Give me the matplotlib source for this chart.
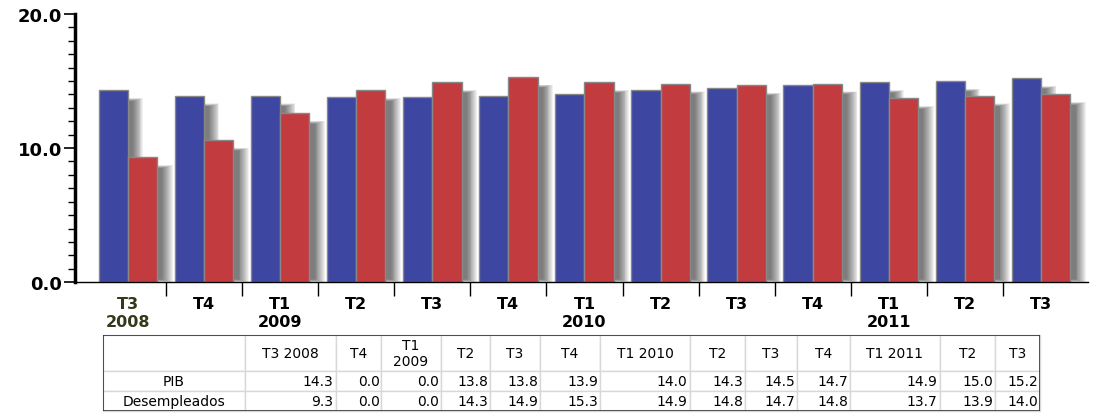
import matplotlib.pyplot as plt
import numpy as np

trimestres = ["T3", "T4", "T1", "T2", "T3", "T4", "T1", "T2", "T3", "T4", "T1", "T2", "T3"]
anios = ["2008", "", "2009", "", "", "", "2010", "", "", "", "2011", "", ""]
pib = [14.3, 13.9, 13.9, 13.8, 13.8, 13.9, 14.0, 14.3, 14.5, 14.7, 14.9, 15.0, 15.2]
desempleados = [9.3, 10.6, 12.6, 14.3, 14.9, 15.3, 14.9, 14.8, 14.7, 14.8, 13.7, 13.9, 14.0]

cabecera = ["", "T3 2008", "T4", "T1\n2009", "T2", "T3", "T4", "T1 2010", "T2", "T3", "T4", "T1 2011", "T2", "T3"]
tabla_pib = ["14.3", "0.0", "0.0", "13.8", "13.8", "13.9", "14.0", "14.3", "14.5", "14.7", "14.9", "15.0", "15.2"]
tabla_des = ["9.3", "0.0", "0.0", "14.3", "14.9", "15.3", "14.9", "14.8", "14.7", "14.8", "13.7", "13.9", "14.0"]

fig = plt.figure(figsize=(10.97, 4.14), dpi=100)
ax = fig.add_axes([0.068, 0.316, 0.924, 0.648])

x = np.arange(len(pib))
w = 0.385
azul = "#3d46a0"
rojo = "#c23b3e"

# sombra difusa: rectangulos crecientes con poca opacidad
for k in range(12):
    g = k * 0.012
    gy = g * 1.7
    for xs, vals in ((x - w / 2, pib), (x + w / 2, desempleados)):
        v = np.array(vals)
        ax.bar(xs + 0.13, v - 1.0 + 2 * gy, w - 0.12 + 2 * g, bottom=0.2 - gy,
               color="black", alpha=0.055, linewidth=0, zorder=1, clip_on=False)

ax.bar(x - w / 2, pib, w, color=azul, edgecolor="#888888", linewidth=1, zorder=3)
ax.bar(x + w / 2, desempleados, w, color=rojo, edgecolor="#888888", linewidth=1, zorder=3)

ax.set_xlim(-0.7, 12.62)
ax.set_ylim(0, 20)
ax.set_yticks([0, 10, 20])
ax.set_yticklabels(["0.0", "10.0", "20.0"], fontsize=13, fontweight="bold")
ax.set_yticks(np.arange(0, 21, 1), minor=True)
ax.tick_params(axis="y", which="major", length=8, width=1.2, pad=1)
ax.tick_params(axis="y", which="minor", length=5, width=1)
for s in ("top", "right"):
    ax.spines[s].set_visible(False)
ax.spines["left"].set_linewidth(2.5)
ax.spines["left"].set_zorder(4)
ax.spines["bottom"].set_linewidth(1)
ax.spines["bottom"].set_zorder(4)

ax.set_xticks(x[:-1] + 0.5)
ax.set_xticklabels([])
ax.tick_params(axis="x", length=10, direction="out", width=1)
for i, (t, a) in enumerate(zip(trimestres, anios)):
    col = "#333a1a" if i == 0 else "black"
    ax.text(i, -1.0, t, ha="center", va="top", fontsize=11.5, fontweight="bold", color=col)
    if a:
        ax.text(i, -2.35, a, ha="center", va="top", fontsize=11.5, fontweight="bold", color=col)

# tabla
anchos = [142, 91, 45, 60, 49, 50, 60, 90, 55, 52, 53, 90, 55, 45]
tx = fig.add_axes([103 / 1097, 2 / 414, sum(anchos) / 1097, 76 / 414])
tx.axis("off")
anchos_rel = [a / sum(anchos) for a in anchos]
filas = [cabecera, ["PIB"] + tabla_pib, ["Desempleados"] + tabla_des]
tb = tx.table(cellText=filas, colWidths=anchos_rel, bbox=[0, 0, 1, 1])
tb.auto_set_font_size(False)
alturas = [0.47, 0.265, 0.265]
for (r, c), cell in tb.get_celld().items():
    cell.set_height(alturas[r])
    cell.set_edgecolor("#d8d8d8")
    cell.set_linewidth(1)
    cell.get_text().set_fontsize(10)
    if r > 0 and c > 0:
        cell._loc = "right"
        cell.PAD = 0.03
    else:
        cell._loc = "center"
    cell.get_text().set_ha(cell._loc)
tx.add_patch(plt.Rectangle((0, 0), 1, 1, transform=tx.transAxes, fill=False,
                           edgecolor="#333333", linewidth=1.2, zorder=5))

fig.savefig("out.png", dpi=100)
